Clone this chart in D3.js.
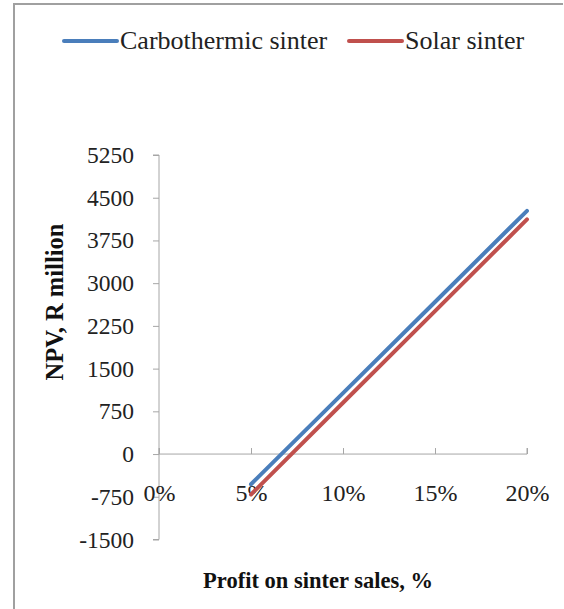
<!DOCTYPE html>
<html><head><meta charset="utf-8">
<script src="https://cdn.jsdelivr.net/npm/d3@7"></script>
<style>body{margin:0;background:#fff}svg{display:block}</style>
</head><body>
<script>
const profits = [5, 10, 15, 20];
const carbothermic = [-530, 1070, 2670, 4270];
const solar = [-710, 900, 2510, 4120];
const yTicks = [-1500, -750, 0, 750, 1500, 2250, 3000, 3750, 4500, 5250];
const xTicks = [0, 5, 10, 15, 20];
const seriesNames = ["Carbothermic sinter", "Solar sinter"];
const colors = ["#4a7ebb", "#c0504d"];

const W = 564, H = 609;
const svg = d3.select("body").append("svg").attr("width", W).attr("height", H);
const font = "'Liberation Serif','Times New Roman',serif";

// outer border
svg.append("path").attr("d", "M14,609V4H563").attr("fill", "none").attr("stroke", "#a0a0a0").attr("stroke-width", 2);

const x = d3.scaleLinear().domain([0, 20]).range([159, 527]);
const y = d3.scaleLinear().domain([-1500, 5250]).range([539.5, 155]);

// y axis
const yAxis = svg.append("g").attr("transform", "translate(159,0)")
  .call(d3.axisLeft(y).tickValues(yTicks).tickSize(6).tickPadding(19).tickFormat(d => String(d)));
yAxis.select(".domain").attr("stroke", "#a6a6a6").attr("d", `M-6,${y(-1500)}H0V${y(5250)}H-6`);
yAxis.selectAll(".tick line").attr("stroke", "#a6a6a6");
yAxis.selectAll("text").attr("font-family", font).attr("font-size", 23.5).attr("fill", "#222");

// x axis at zero
const xAxis = svg.append("g").attr("transform", `translate(0,${y(0)})`)
  .call(d3.axisBottom(x).tickValues(xTicks).tickSize(-6).tickPadding(30).tickFormat(d => d + "%"));
xAxis.select(".domain").attr("stroke", "#a6a6a6").attr("d", `M${x(0)},-6V0H${x(20)}V-6`);
xAxis.selectAll(".tick line").attr("stroke", "#a6a6a6");
xAxis.selectAll("text").attr("font-family", font).attr("font-size", 24).attr("fill", "#222");

// lines
const line = d3.line().x((d, i) => x(profits[i])).y(d => y(d));
[carbothermic, solar].forEach((s, i) => {
  svg.append("path").datum(s).attr("d", line).attr("fill", "none")
    .attr("stroke", colors[i]).attr("stroke-width", 4).attr("stroke-linecap", "round");
});

// legend
const legendItems = [{x0: 64, x1: 117, tx: 120}, {x0: 349, x1: 402, tx: 405}];
legendItems.forEach((L, i) => {
  svg.append("line").attr("x1", L.x0).attr("x2", L.x1).attr("y1", 41).attr("y2", 41)
    .attr("stroke", colors[i]).attr("stroke-width", 4).attr("stroke-linecap", "round");
  svg.append("text").attr("x", L.tx).attr("y", 49).attr("font-family", font).attr("font-size", 26)
    .attr("fill", "#222").text(seriesNames[i]);
});

// axis titles
svg.append("text").attr("x", 318).attr("y", 588).attr("text-anchor", "middle")
  .attr("font-family", font).attr("font-size", 22.5).attr("font-weight", "bold").attr("fill", "#111")
  .text("Profit on sinter sales, %");
svg.append("text").attr("transform", "translate(63,302) rotate(-90)").attr("text-anchor", "middle")
  .attr("font-family", font).attr("font-size", 24.5).attr("font-weight", "bold").attr("fill", "#111")
  .text("NPV, R million");
</script>
</body></html>
